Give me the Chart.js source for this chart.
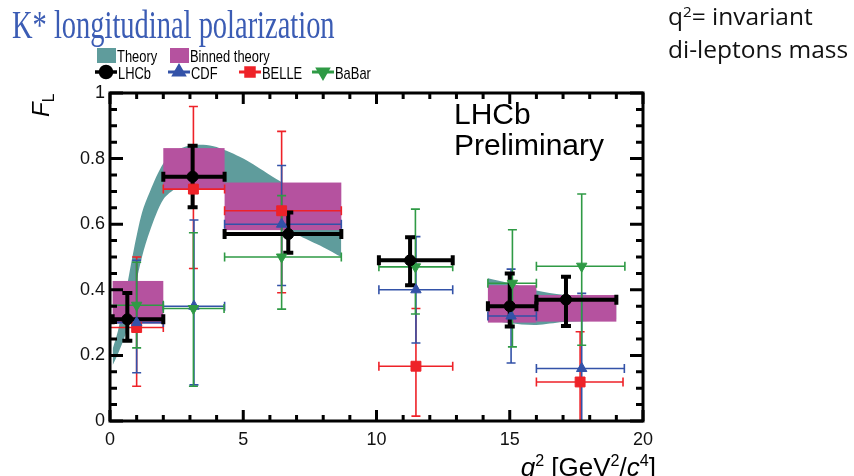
<!DOCTYPE html>
<html>
<head>
<meta charset="utf-8">
<script src="https://cdn.jsdelivr.net/npm/chart.js@4.4.0/dist/chart.umd.min.js"></script>
<style>
  html, body { margin: 0; padding: 0; background: #fff; }
  #wrap { position: relative; width: 854px; height: 476px; overflow: hidden; }
  #c { position: absolute; left: 0; top: 0; }
  .title { position: absolute; left: 12px; top: 5px; font-family: "Liberation Serif", serif; font-size: 39px; line-height: 39px;
           color: #3b5cb4; white-space: nowrap; transform-origin: 0 0; transform: scaleX(0.73); }
  .note { position: absolute; left: 668px; font-family: "Open Sans", sans-serif; font-size: 24.5px; line-height: 28px; color: #111; white-space: nowrap; }
  .note sup { font-size: 62%; position: relative; top: -0.5em; vertical-align: baseline; }
  .prelim { position: absolute; left: 454px; top: 98px; font-family: "Liberation Sans", sans-serif; font-size: 30px; line-height: 31px; color: #000; }
  .ytitle { position: absolute; left: 28px; top: 117px; font-family: "Liberation Sans", sans-serif; font-size: 24px; line-height: 26px;
            transform-origin: left top; transform: rotate(-90deg); white-space: nowrap; color: #000; }
  .ytitle sub { font-size: 65%; position: relative; top: 0.3em; vertical-align: baseline; }
  .xtitle { position: absolute; right: 198px; top: 452px; font-family: "Liberation Sans", sans-serif; font-size: 26px; line-height: 30px; color: #000; white-space: nowrap; }
  .xtitle sup { font-size: 62%; position: relative; top: -0.6em; vertical-align: baseline; }
</style>
</head>
<body>
<div id="wrap">
  <canvas id="c" width="854" height="476"></canvas>
  <div class="title">K* longitudinal polarization</div>
  <div class="note" style="top:2px">q<sup>2</sup>= invariant</div>
  <div class="note" style="top:35px">di-leptons mass</div>
  <div class="prelim">LHCb<br>Preliminary</div>
  <div class="ytitle"><i>F</i><sub>L</sub></div>
  <div class="xtitle"><i>q</i><sup>2</sup> [GeV<sup>2</sup>/<i>c</i><sup>4</sup>]</div>
</div>
<script>
// ---- axis ticks ----
const xTicks = [0, 5, 10, 15, 20];
const yTicks = [0, 0.2, 0.4, 0.6, 0.8, 1];

// ---- continuous theory band (low and high q2 regions) ----
const bandLowQ2    = [0.1, 0.3, 0.6, 0.9, 1.2, 1.5, 2.0, 2.5, 3.0, 3.5, 4.0, 5.0, 6.0, 7.0, 8.0, 8.68];
const bandLowUpper = [0.22, 0.275, 0.395, 0.525, 0.635, 0.70, 0.785, 0.825, 0.84, 0.842, 0.835, 0.80, 0.75, 0.70, 0.645, 0.61];
const bandLowLower = [0.17, 0.205, 0.27, 0.39, 0.50, 0.58, 0.675, 0.71, 0.725, 0.725, 0.715, 0.68, 0.63, 0.57, 0.53, 0.50];
const bandHighQ2    = [14.18, 15.0, 16.0, 17.0, 18.0, 19.0];
const bandHighUpper = [0.435, 0.42, 0.398, 0.385, 0.38, 0.375];
const bandHighLower = [0.31, 0.298, 0.293, 0.302, 0.305, 0.31];

// ---- binned theory ----
const binnedLo     = [0.1, 2.0, 4.3, 14.18, 16.0];
const binnedHi     = [2.0, 4.3, 8.68, 16.0, 19.0];
const binnedTop    = [0.427, 0.832, 0.727, 0.414, 0.384];
const binnedBottom = [0.297, 0.705, 0.582, 0.300, 0.303];

// ---- LHCb ----
const lhcbQ2    = [0.65, 3.1, 6.69, 11.26, 15.0, 17.11];
const lhcbFL    = [0.31, 0.745, 0.57, 0.49, 0.35, 0.37];
const lhcbFLHi  = [0.39, 0.839, 0.636, 0.56, 0.45, 0.44];
const lhcbFLLo  = [0.245, 0.652, 0.513, 0.414, 0.288, 0.29];
const lhcbBinLo = [0.1, 2.0, 4.3, 10.09, 14.18, 16.0];
const lhcbBinHi = [2.0, 4.3, 8.68, 12.86, 16.0, 19.0];

// ---- CDF ----
const cdfQ2    = [1.0, 3.15, 6.44, 11.48, 15.05, 17.7];
const cdfFL    = [0.30, 0.35, 0.60, 0.40, 0.32, 0.16];
const cdfFLHi  = [0.49, 0.613, 0.779, 0.562, 0.463, 0.389];
const cdfFLLo  = [0.147, 0.11, 0.413, 0.238, 0.177, -0.1];
const cdfBinLo = [0, 2.0, 4.3, 10.09, 14.18, 16.0];
const cdfBinHi = [2.0, 4.3, 8.68, 12.86, 16.0, 19.3];

// ---- BELLE ----
const belleQ2    = [1.0, 3.13, 6.44, 11.48, 17.64];
const belleFL    = [0.285, 0.707, 0.641, 0.167, 0.119];
const belleFLHi  = [0.50, 0.959, 0.883, 0.343, 0.272];
const belleFLLo  = [0.106, 0.465, 0.391, 0.015, -0.1];
const belleBinLo = [0, 2.0, 4.3, 10.09, 16.0];
const belleBinHi = [2.0, 4.3, 8.68, 12.86, 19.25];

// ---- BaBar ----
const babarQ2    = [1.0, 3.13, 6.44, 11.46, 15.1, 17.7];
const babarFL    = [0.353, 0.343, 0.50, 0.47, 0.42, 0.472];
const babarFLHi  = [0.484, 0.574, 0.687, 0.646, 0.583, 0.692];
const babarFLLo  = [0.223, 0.106, 0.341, 0.326, 0.226, 0.231];
const babarBinLo = [0, 2.0, 4.3, 10.09, 14.18, 16.0];
const babarBinHi = [2.0, 4.28, 8.68, 12.86, 16.0, 19.32];

const COL = { theory: '#5f9c9c', binned: '#b5529f', lhcb: '#000000', cdf: '#3352a8', belle: '#ee2228', babar: '#2f9a45' };
const FONT = '"Liberation Sans", Arial, sans-serif';

const pts = (xs, ys) => xs.map((x, i) => ({ x, y: ys[i] }));
const errs = (q2, lo, hi, bLo, bHi) => q2.map((_, i) => ({ yLo: lo[i], yHi: hi[i], xLo: bLo[i], xHi: bHi[i] }));

function measurement(label, color, style, radius, rotation, lineWidth, cap, q2, fl, lo, hi, bLo, bHi) {
  return {
    type: 'scatter', label, data: pts(q2, fl),
    pointStyle: style, pointRadius: radius, pointRotation: rotation,
    backgroundColor: color, borderColor: color, borderWidth: 1,
    errorBars: { color, lineWidth, cap, list: errs(q2, lo, hi, bLo, bHi) }
  };
}
function bandEdge(label, xs, ys, fill) {
  return {
    type: 'line', label, data: pts(xs, ys), showLine: true, pointRadius: 0,
    borderWidth: 0, borderColor: 'rgba(0,0,0,0)', backgroundColor: COL.theory,
    fill, tension: 0.3
  };
}

// datasets drawn last-to-first, so LHCb (index 0) ends up on top
const datasets = [
  measurement('LHCb', COL.lhcb, 'circle', 5.5, 0, 4, 10, lhcbQ2, lhcbFL, lhcbFLLo, lhcbFLHi, lhcbBinLo, lhcbBinHi),
  measurement('BaBar', COL.babar, 'triangle', 6, 180, 1.6, 9, babarQ2, babarFL, babarFLLo, babarFLHi, babarBinLo, babarBinHi),
  measurement('CDF', COL.cdf, 'triangle', 6, 0, 1.6, 9, cdfQ2, cdfFL, cdfFLLo, cdfFLHi, cdfBinLo, cdfBinHi),
  measurement('BELLE', COL.belle, 'rect', 7, 0, 1.6, 9, belleQ2, belleFL, belleFLLo, belleFLHi, belleBinLo, belleBinHi),
  bandEdge('Theory', bandLowQ2, bandLowUpper, '+1'),
  bandEdge('theory-low', bandLowQ2, bandLowLower, false),
  bandEdge('theory-high-up', bandHighQ2, bandHighUpper, '+1'),
  bandEdge('theory-high-low', bandHighQ2, bandHighLower, false)
];

// binned-theory rectangles and error bars, under the markers
const underlayPlugin = {
  id: 'underlay',
  beforeDatasetsDraw(chart) {
    const { ctx, chartArea: a, scales: { x, y } } = chart;
    ctx.save();
    ctx.beginPath(); ctx.rect(a.left, a.top, a.right - a.left, a.bottom - a.top); ctx.clip();
    ctx.fillStyle = COL.binned;
    binnedLo.forEach((lo, i) => {
      const x0 = x.getPixelForValue(lo), x1 = x.getPixelForValue(binnedHi[i]);
      const y0 = y.getPixelForValue(binnedTop[i]), y1 = y.getPixelForValue(binnedBottom[i]);
      ctx.fillRect(x0, y0, x1 - x0, y1 - y0);
    });
    // error bars: BELLE, CDF, BaBar, then LHCb on top
    [3, 2, 1, 0].forEach(di => {
      const ds = chart.data.datasets[di];
      const eb = ds.errorBars;
      ctx.strokeStyle = eb.color; ctx.lineWidth = eb.lineWidth; ctx.lineCap = 'butt';
      const h = eb.cap / 2;
      ds.data.forEach((p, i) => {
        const e = eb.list[i];
        const px = x.getPixelForValue(p.x), py = y.getPixelForValue(p.y);
        const xl = x.getPixelForValue(e.xLo), xr = x.getPixelForValue(e.xHi);
        const yt = y.getPixelForValue(e.yHi), yb = y.getPixelForValue(e.yLo);
        ctx.beginPath();
        ctx.moveTo(xl, py); ctx.lineTo(xr, py);
        ctx.moveTo(px, yt); ctx.lineTo(px, yb);
        ctx.moveTo(xl, py - h); ctx.lineTo(xl, py + h);
        ctx.moveTo(xr, py - h); ctx.lineTo(xr, py + h);
        ctx.moveTo(px - h, yt); ctx.lineTo(px + h, yt);
        ctx.moveTo(px - h, yb); ctx.lineTo(px + h, yb);
        ctx.stroke();
      });
    });
    ctx.restore();
  }
};

// frame with inward ticks on all four sides
const framePlugin = {
  id: 'frame',
  afterDatasetsDraw(chart) {
    const { ctx, chartArea: a, scales: { x, y } } = chart;
    ctx.save();
    ctx.strokeStyle = '#000'; ctx.lineWidth = 3; ctx.lineCap = 'butt';
    ctx.strokeRect(a.left, a.top, a.right - a.left, a.bottom - a.top);
    ctx.beginPath();
    for (let v = 0; v <= 20.001; v += 1) {
      const px = x.getPixelForValue(v);
      const len = (Math.round(v) % 5 === 0) ? 11 : 6;
      ctx.moveTo(px, a.bottom); ctx.lineTo(px, a.bottom - len);
      ctx.moveTo(px, a.top); ctx.lineTo(px, a.top + len);
    }
    for (let k = 0; k <= 20; k++) {
      const py = y.getPixelForValue(k * 0.05);
      const len = (k % 4 === 0) ? 13 : 7;
      ctx.moveTo(a.left, py); ctx.lineTo(a.left + len, py);
      ctx.moveTo(a.right, py); ctx.lineTo(a.right - len, py);
    }
    ctx.stroke();
    ctx.restore();
  }
};

// two-row legend above the plot
const legendPlugin = {
  id: 'twoRowLegend',
  afterDraw(chart) {
    const { ctx } = chart;
    ctx.save();
    ctx.font = '17px ' + FONT;
    ctx.textBaseline = 'alphabetic';
    const boxes = [['Theory', COL.theory, 97], ['Binned theory', COL.binned, 170]];
    boxes.forEach(([t, c, x0]) => {
      ctx.fillStyle = c; ctx.fillRect(x0, 48, 19, 15);
      ctx.fillStyle = '#000';
      ctx.save(); ctx.translate(x0 + 20, 62); ctx.scale(0.76, 1); ctx.fillText(t, 0, 0); ctx.restore();
    });
    const marks = [[0, 95], [2, 168], [3, 239], [1, 312]];
    marks.forEach(([di, x0]) => {
      const ds = chart.data.datasets[di];
      const yc = 72;
      ctx.strokeStyle = ds.borderColor; ctx.lineWidth = di === 0 ? 3.5 : 3;
      ctx.beginPath(); ctx.moveTo(x0, yc); ctx.lineTo(x0 + 22, yc); ctx.stroke();
      ctx.fillStyle = ds.backgroundColor;
      Chart.helpers.drawPoint(ctx, { pointStyle: ds.pointStyle, rotation: ds.pointRotation, radius: di === 0 ? 5.5 : 6, borderWidth: 1 }, x0 + 11, yc);
      ctx.fillStyle = '#000';
      ctx.save(); ctx.translate(x0 + 23, 79); ctx.scale(0.76, 1); ctx.fillText(ds.label, 0, 0); ctx.restore();
    });
    ctx.restore();
  }
};

new Chart(document.getElementById('c'), {
  type: 'scatter',
  data: { datasets },
  options: {
    responsive: false,
    animation: false,
    layout: { padding: { left: 55, right: 211, top: 93, bottom: 20 } },
    scales: {
      x: {
        type: 'linear', min: 0, max: 20,
        afterBuildTicks: s => { s.ticks = xTicks.map(v => ({ value: v })); },
        afterFit: s => { s.height = 35; },
        grid: { display: false, drawTicks: false },
        border: { display: false },
        ticks: { font: { family: FONT, size: 18 }, color: '#111', padding: 8, maxRotation: 0, autoSkip: false,
                 callback: v => String(v) }
      },
      y: {
        type: 'linear', min: 0, max: 1,
        afterBuildTicks: s => { s.ticks = yTicks.map(v => ({ value: v })); },
        afterFit: s => { s.width = 55; },
        grid: { display: false, drawTicks: false },
        border: { display: false },
        ticks: { font: { family: FONT, size: 18 }, color: '#111', padding: 5, autoSkip: false,
                 callback: v => String(v) }
      }
    },
    plugins: {
      legend: { display: false },
      tooltip: { enabled: false },
      filler: { drawTime: 'beforeDraw', propagate: false }
    }
  },
  plugins: [underlayPlugin, framePlugin, legendPlugin]
});
</script>
</body>
</html>
